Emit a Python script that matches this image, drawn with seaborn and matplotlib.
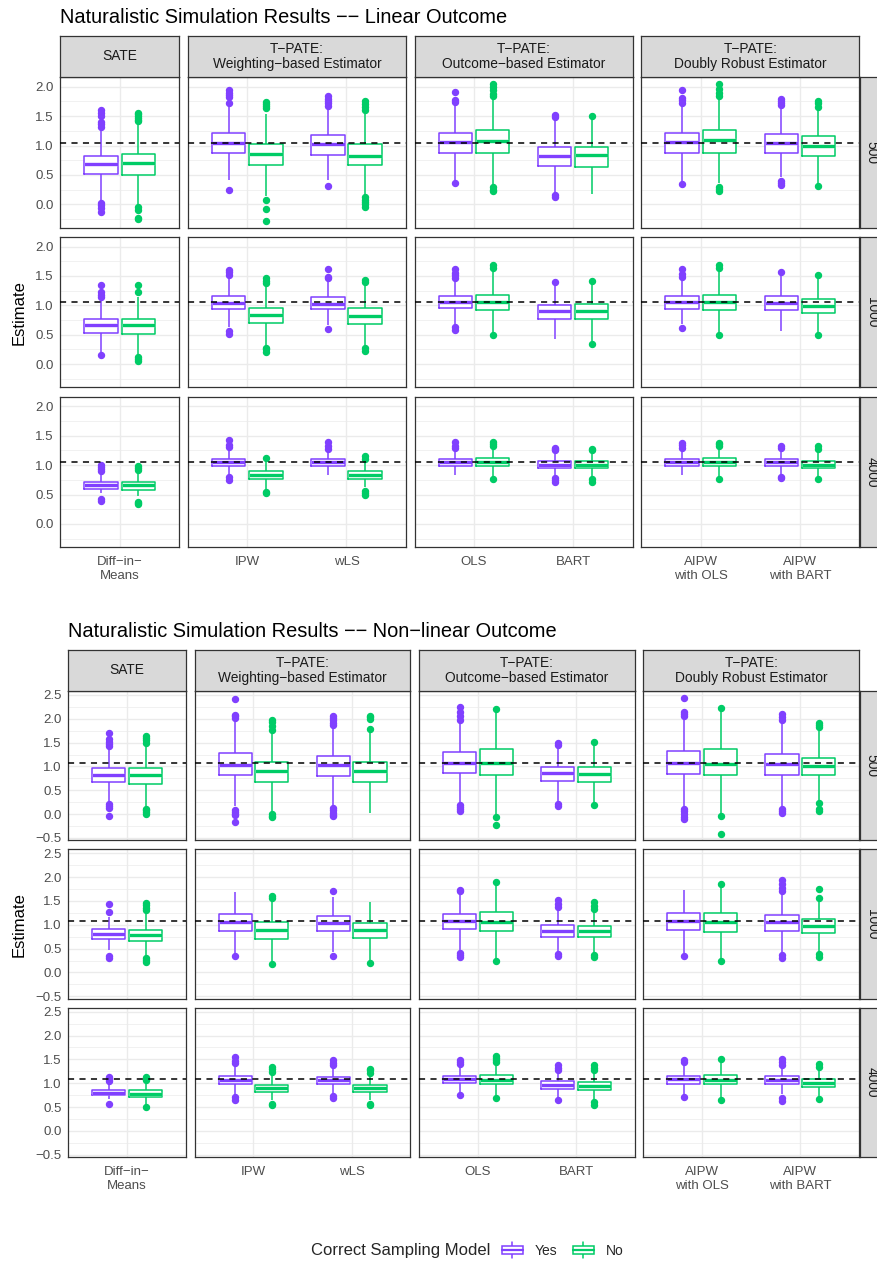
import pandas as pd
import seaborn as sns
import matplotlib.pyplot as plt
from matplotlib.patches import Rectangle, Patch
from matplotlib.lines import Line2D
from matplotlib.legend_handler import HandlerBase
from matplotlib.ticker import MultipleLocator

M = '\u2212'  # R draws hyphens as minus signs

# ---- categories -------------------------------------------------------------
estimators = ['Diff-in-Means', 'IPW', 'wLS', 'OLS', 'BART', 'AIPW with OLS', 'AIPW with BART']
estimator_labels = [f'Diff{M}in{M}\nMeans', 'IPW', 'wLS', 'OLS', 'BART', 'AIPW\nwith OLS', 'AIPW\nwith BART']
groups = ['SATE', f'T{M}PATE:\nWeighting{M}based Estimator',
          f'T{M}PATE:\nOutcome{M}based Estimator', f'T{M}PATE:\nDoubly Robust Estimator']
group_members = [['Diff-in-Means'], ['IPW', 'wLS'], ['OLS', 'BART'], ['AIPW with OLS', 'AIPW with BART']]
sample_sizes = [500, 1000, 4000]
models = ['Yes', 'No']
lin_yticks = [0.0, 0.5, 1.0, 1.5, 2.0]
nl_yticks = [-0.5, 0.0, 0.5, 1.0, 1.5, 2.0, 2.5]
lin_truth = 1.05
nl_truth = 1.08

# ---- box summaries: (low whisker, Q1, median, Q3, high whisker)
# one row per estimator, same order as `estimators`; *_out are the outlying points
lin_500_yes = [(0.06, 0.51, 0.68, 0.825, 1.28), (0.41, 0.88, 1.035, 1.215, 1.70),
               (0.41, 0.847, 1.023, 1.175, 1.65), (0.41, 0.88, 1.062, 1.215, 1.71),
               (0.20, 0.655, 0.82, 0.97, 1.43), (0.38, 0.88, 1.062, 1.215, 1.70),
               (0.47, 0.88, 1.05, 1.20, 1.63)]
lin_500_yes_out = [[1.32, 1.36, 1.40, 1.50, 1.55, 1.61, 0.03, -0.02, -0.06, -0.13],
                   [1.73, 1.82, 1.86, 1.90, 1.95, 0.25], [1.68, 1.72, 1.76, 1.80, 1.85, 0.31],
                   [1.74, 1.77, 1.91, 0.36], [1.48, 1.52, 0.16, 0.12],
                   [1.73, 1.77, 1.81, 1.94, 0.34], [1.69, 1.72, 1.76, 1.80, 0.39, 0.36, 0.33]]
lin_500_no = [(0.00, 0.503, 0.695, 0.86, 1.38), (0.14, 0.672, 0.864, 1.034, 1.54),
              (0.16, 0.667, 0.83, 1.023, 1.54), (0.33, 0.881, 1.085, 1.26, 1.80),
              (0.17, 0.64, 0.836, 0.98, 1.43), (0.36, 0.881, 1.09, 1.26, 1.82),
              (0.34, 0.83, 1.0, 1.158, 1.63)]
lin_500_no_out = [[1.41, 1.44, 1.47, 1.50, 1.53, 1.56, -0.05, -0.09, -0.24, -0.25],
                  [1.64, 1.67, 1.70, 1.74, 0.07, -0.085, -0.28],
                  [1.60, 1.65, 1.70, 1.75, 0.12, 0.08, 0.04, 0.0, -0.05],
                  [1.84, 1.88, 1.94, 2.00, 2.05, 0.30, 0.25, 0.22], [1.51],
                  [1.85, 1.90, 1.97, 2.05, 0.30, 0.26, 0.22], [1.66, 1.72, 1.76, 0.31]]

lin_1000_yes = [(0.20, 0.535, 0.665, 0.77, 1.10), (0.63, 0.94, 1.04, 1.166, 1.50),
                (0.66, 0.93, 1.03, 1.14, 1.42), (0.69, 0.952, 1.053, 1.155, 1.42),
                (0.43, 0.77, 0.90, 1.014, 1.34), (0.69, 0.946, 1.053, 1.155, 1.45),
                (0.57, 0.918, 1.04, 1.16, 1.52)]
lin_1000_yes_out = [[1.14, 1.18, 1.22, 1.34, 0.16], [1.52, 1.56, 1.60, 0.57, 0.52],
                    [1.46, 1.48, 1.62, 0.59], [1.47, 1.51, 1.55, 1.62, 0.63, 0.58],
                    [1.40], [1.48, 1.53, 1.62, 0.62], [1.57]]
lin_1000_no = [(0.18, 0.52, 0.66, 0.77, 1.14), (0.32, 0.693, 0.84, 0.963, 1.36),
               (0.32, 0.687, 0.82, 0.95, 1.33), (0.53, 0.918, 1.065, 1.18, 1.56),
               (0.40, 0.766, 0.907, 1.02, 1.39), (0.53, 0.918, 1.053, 1.18, 1.56),
               (0.52, 0.873, 0.997, 1.115, 1.47)]
lin_1000_no_out = [[1.22, 1.34, 0.12, 0.08, 0.05], [1.38, 1.42, 1.46, 0.28, 0.25, 0.20],
                   [1.39, 1.43, 0.27, 0.22], [1.63, 1.68, 0.50], [1.42, 0.35],
                   [1.64, 1.68, 0.50], [1.52, 0.50]]

lin_4000_yes = [(0.52, 0.60, 0.66, 0.715, 0.86), (0.84, 0.99, 1.053, 1.11, 1.25),
                (0.84, 0.99, 1.053, 1.104, 1.22), (0.84, 0.99, 1.048, 1.11, 1.22),
                (0.83, 0.952, 1.008, 1.065, 1.19), (0.84, 0.99, 1.048, 1.11, 1.22),
                (0.85, 0.986, 1.048, 1.104, 1.22)]
lin_4000_yes_out = [[0.90, 0.94, 0.97, 1.00, 0.42, 0.39], [1.31, 1.35, 1.42, 0.79, 0.75],
                    [1.28, 1.32, 1.39], [1.30, 1.33, 1.40], [1.25, 1.28, 1.30, 0.78, 0.75, 0.72],
                    [1.30, 1.34, 1.38], [1.29, 1.32, 0.80, 0.78]]
lin_4000_no = [(0.47, 0.585, 0.66, 0.715, 0.86), (0.60, 0.766, 0.84, 0.907, 1.08),
               (0.63, 0.766, 0.83, 0.90, 1.08), (0.80, 0.986, 1.048, 1.12, 1.25),
               (0.77, 0.946, 0.997, 1.065, 1.19), (0.80, 0.986, 1.048, 1.12, 1.25),
               (0.80, 0.952, 0.997, 1.076, 1.22)]
lin_4000_no_out = [[0.92, 0.95, 0.98, 0.38, 0.36, 0.34], [1.13, 0.54, 0.52],
                   [1.11, 1.15, 0.56, 0.53, 0.50], [1.33, 1.36, 1.39, 0.77],
                   [1.25, 1.28, 0.76, 0.72], [1.33, 1.36, 1.38, 0.77], [1.28, 1.33, 0.76]]

nl_500_yes = [(0.265, 0.67, 0.817, 0.957, 1.38), (0.16, 0.81, 1.034, 1.285, 1.94),
              (0.17, 0.796, 1.02, 1.22, 1.80), (0.23, 0.86, 1.082, 1.30, 1.94),
              (0.27, 0.70, 0.86, 0.99, 1.42), (0.16, 0.84, 1.082, 1.32, 2.01),
              (0.15, 0.81, 1.06, 1.27, 1.94)]
nl_500_yes_out = [[1.42, 1.47, 1.52, 1.58, 1.70, 0.22, 0.16, 0.13, -0.03],
                  [2.01, 2.05, 2.08, 2.42, 0.09, 0.05, 0.0, -0.02, -0.17],
                  [1.87, 1.92, 1.97, 2.02, 2.06, 0.13, 0.08, 0.03, -0.02, -0.05],
                  [1.98, 2.05, 2.15, 2.25, 0.18, 0.14, 0.10, 0.06], [1.45, 1.50, 0.22, 0.17],
                  [2.05, 2.10, 2.15, 2.44, 0.11, 0.06, 0.0, -0.06, -0.10],
                  [1.98, 2.04, 2.09, 0.11, 0.07, 0.03]]
nl_500_no = [(0.16, 0.63, 0.81, 0.97, 1.45), (0.04, 0.67, 0.90, 1.10, 1.73),
             (0.02, 0.663, 0.894, 1.10, 1.75), (0.0, 0.81, 1.075, 1.355, 2.15),
             (0.23, 0.68, 0.845, 0.99, 1.45), (0.0, 0.81, 1.06, 1.355, 2.17),
             (0.265, 0.81, 1.013, 1.187, 1.75)]
nl_500_no_out = [[1.50, 1.55, 1.60, 1.63, 0.11, 0.08, 0.04, 0.01],
                 [1.77, 1.85, 1.93, 1.98, 0.0, -0.03, -0.06], [1.79, 2.00, 2.03, 2.06],
                 [2.20, -0.06, -0.22], [1.52, 0.19], [2.22, -0.03, -0.41],
                 [1.82, 1.87, 1.92, 0.23, 0.10, 0.06]]

nl_1000_yes = [(0.47, 0.693, 0.805, 0.917, 1.17), (0.37, 0.875, 1.064, 1.225, 1.69),
               (0.43, 0.875, 1.043, 1.19, 1.575), (0.47, 0.917, 1.078, 1.225, 1.66),
               (0.43, 0.75, 0.868, 0.987, 1.34), (0.40, 0.90, 1.078, 1.25, 1.74),
               (0.40, 0.875, 1.064, 1.20, 1.66)]
nl_1000_yes_out = [[1.26, 1.43, 0.35, 0.31], [0.34], [1.71, 0.34],
                   [1.70, 1.74, 0.41, 0.36, 0.32], [1.38, 1.44, 1.52, 0.39, 0.35],
                   [0.34], [1.70, 1.78, 1.86, 1.94, 0.37, 0.30]]
nl_1000_no = [(0.36, 0.665, 0.784, 0.90, 1.24), (0.22, 0.707, 0.896, 1.05, 1.52),
              (0.24, 0.714, 0.889, 1.036, 1.47), (0.30, 0.86, 1.057, 1.26, 1.85),
              (0.40, 0.735, 0.868, 0.973, 1.31), (0.27, 0.854, 1.05, 1.25, 1.82),
              (0.41, 0.833, 0.98, 1.12, 1.52)]
nl_1000_no_out = [[1.31, 1.36, 1.41, 1.45, 0.31, 0.26, 0.22], [1.57, 1.60, 0.18], [0.19],
                  [1.90, 0.24], [1.34, 1.40, 1.47, 0.36, 0.32], [1.85, 0.24],
                  [1.56, 1.75, 0.38, 0.33]]

nl_4000_yes = [(0.66, 0.75, 0.805, 0.868, 0.99), (0.75, 0.98, 1.064, 1.15, 1.38),
               (0.77, 0.98, 1.057, 1.134, 1.34), (0.80, 1.0, 1.078, 1.155, 1.34),
               (0.68, 0.889, 0.966, 1.043, 1.24), (0.76, 0.994, 1.078, 1.155, 1.39),
               (0.77, 0.994, 1.071, 1.15, 1.34)]
nl_4000_yes_out = [[1.05, 1.08, 1.12, 0.57], [1.42, 1.47, 1.54, 0.72, 0.64],
                   [1.38, 1.43, 1.48, 0.73, 0.68], [1.40, 1.44, 1.48, 0.75],
                   [1.28, 1.32, 1.38, 0.64], [1.45, 1.48, 0.71], [1.39, 1.44, 1.50, 0.70, 0.62]]
nl_4000_no = [(0.57, 0.72, 0.784, 0.854, 0.99), (0.644, 0.812, 0.89, 0.966, 1.19),
              (0.644, 0.812, 0.89, 0.966, 1.19), (0.75, 0.98, 1.064, 1.162, 1.38),
              (0.644, 0.868, 0.952, 1.03, 1.24), (0.71, 0.98, 1.064, 1.162, 1.43),
              (0.70, 0.924, 1.0, 1.085, 1.27)]
nl_4000_no_out = [[1.06, 1.08, 1.12, 0.51], [1.24, 1.29, 1.34, 0.57, 0.54],
                  [1.22, 1.27, 1.30, 0.57, 0.55], [1.44, 1.48, 1.52, 1.58, 0.70],
                  [1.28, 1.32, 1.38, 0.60, 0.54], [1.50, 0.64], [1.34, 1.40, 0.67]]

tables = {
    'linear': {(500, 'Yes'): (lin_500_yes, lin_500_yes_out), (500, 'No'): (lin_500_no, lin_500_no_out),
               (1000, 'Yes'): (lin_1000_yes, lin_1000_yes_out), (1000, 'No'): (lin_1000_no, lin_1000_no_out),
               (4000, 'Yes'): (lin_4000_yes, lin_4000_yes_out), (4000, 'No'): (lin_4000_no, lin_4000_no_out)},
    'nonlinear': {(500, 'Yes'): (nl_500_yes, nl_500_yes_out), (500, 'No'): (nl_500_no, nl_500_no_out),
                  (1000, 'Yes'): (nl_1000_yes, nl_1000_yes_out), (1000, 'No'): (nl_1000_no, nl_1000_no_out),
                  (4000, 'Yes'): (nl_4000_yes, nl_4000_yes_out), (4000, 'No'): (nl_4000_no, nl_4000_no_out)},
}


# turn each five-number summary back into a sample with exactly those quartiles
def expand(box, out, reps=40):
    lo, q1, med, q3, hi = box
    return list(out) + [lo, hi] + [q1] * reps + [med] * reps + [q3] * reps


records = []
for outcome, tab in tables.items():
    for (n, model), (boxes, outs) in tab.items():
        for est, box, out in zip(estimators, boxes, outs):
            for v in expand(box, out):
                records.append((outcome, n, est, model, v))
df = pd.DataFrame(records, columns=['outcome', 'n', 'estimator', 'model', 'estimate'])

# ---- style ----------------------------------------------------------------
sns.set_theme(style='white')
plt.rcParams['font.family'] = ['Liberation Sans', 'DejaVu Sans']
palette = {'Yes': '#8040FF', 'No': '#00CC66'}
BORDER = '#333333'
GRID = '#EBEBEB'

W, H = 877, 1262
fig = plt.figure(figsize=(W / 100, H / 100), dpi=100)


def frac(x0, y0, w, h):
    return [x0 / W, 1 - (y0 + h) / H, w / W, h / H]


charts = [
    dict(outcome='linear', title=f'Naturalistic Simulation Results {M}{M} Linear Outcome',
         left=60.3, top=77.0, row_h=150.6, row_gap=9.2, yticks=lin_yticks, truth=lin_truth),
    dict(outcome='nonlinear', title=f'Naturalistic Simulation Results {M}{M} Non{M}linear Outcome',
         left=68.3, top=691.0, row_h=149.4, row_gap=9.0, yticks=nl_yticks, truth=nl_truth),
]
right, col_gap, strip_h = 859.3, 8.6, 41.0

for ch in charts:
    sub_all = df[df.outcome == ch['outcome']]
    lo, hi = sub_all.estimate.min(), sub_all.estimate.max()
    pad = 0.05 * (hi - lo)
    ylim = (lo - pad, hi + pad)
    unit = (right - ch['left'] - 3 * col_gap) / sum(len(m) + 0.2 for m in group_members)
    widths = [(len(m) + 0.2) * unit for m in group_members]
    xs = [ch['left'] + sum(widths[:i]) + i * col_gap for i in range(4)]

    for r, n in enumerate(sample_sizes):
        y0 = ch['top'] + r * (ch['row_h'] + ch['row_gap'])
        for c, members in enumerate(group_members):
            ax = fig.add_axes(frac(xs[c], y0, widths[c], ch['row_h']))
            sub = sub_all[(sub_all.n == n) & (sub_all.estimator.isin(members))]
            common = dict(data=sub, x='estimator', y='estimate', hue='model', order=members,
                          hue_order=models, width=0.75, gap=0.1, showcaps=False, legend=False, ax=ax)
            # white fill underneath, then coloured outlines
            sns.boxplot(palette={'Yes': 'white', 'No': 'white'}, linecolor='white',
                        showfliers=False, **common)
            sns.boxplot(palette=palette, fill=False, linewidth=1.1, fliersize=4.3, **common)
            for ln in ax.lines:
                xd, yd = ln.get_xdata(), ln.get_ydata()
                if ln.get_marker() == 'o':
                    ln.set_markerfacecolor(ln.get_markeredgecolor())
                elif len(xd) == 2 and yd[0] == yd[1] and xd[0] != xd[1]:
                    ln.set_linewidth(2.4)  # medians are drawn twice as thick
            ax.axhline(ch['truth'], color='black', lw=1.1, ls=(0, (4, 3.5)), zorder=6)

            ax.set_xlim(-0.6, len(members) - 0.4)
            ax.set_ylim(*ylim)
            ax.set_xlabel('')
            ax.set_ylabel('')
            ax.set_yticks(ch['yticks'])
            ax.set_yticklabels([f'{v:.1f}'.replace('-', M) for v in ch['yticks']])
            ax.yaxis.set_minor_locator(MultipleLocator(0.25))
            ax.set_axisbelow(True)
            ax.grid(True, which='major', color=GRID, lw=1.0)
            ax.grid(True, which='minor', axis='y', color=GRID, lw=0.5)
            ax.xaxis.grid(True, which='major', color=GRID, lw=1.0)
            ax.tick_params(which='minor', length=0)
            ax.tick_params(which='major', length=2.75, width=0.8, color=BORDER,
                           labelsize=9.5, labelcolor='#4D4D4D', pad=2.2)
            ax.tick_params(axis='x', pad=3.5)
            for s in ax.spines.values():
                s.set_color(BORDER)
                s.set_linewidth(0.9)
            if c > 0:
                ax.tick_params(axis='y', left=False, labelleft=False)
            if r < 2:
                ax.tick_params(axis='x', bottom=False, labelbottom=False)
            else:
                ax.set_xticks(range(len(members)))
                ax.set_xticklabels([estimator_labels[estimators.index(m)] for m in members],
                                   linespacing=1.25)

            if r == 0:
                sax = fig.add_axes(frac(xs[c], y0 - strip_h, widths[c], strip_h))
                sax.set_facecolor('#D9D9D9')
                sax.set_xticks([])
                sax.set_yticks([])
                for s in sax.spines.values():
                    s.set_color(BORDER)
                    s.set_linewidth(0.9)
                sax.text(0.5, 0.5, groups[c], ha='center', va='center', fontsize=9.9,
                         color='#1A1A1A', linespacing=1.05, transform=sax.transAxes)

        rax = fig.add_axes(frac(right + 1.0, y0, 22.7, ch['row_h']))
        rax.set_facecolor('#D9D9D9')
        rax.set_xticks([])
        rax.set_yticks([])
        for s in rax.spines.values():
            s.set_color(BORDER)
            s.set_linewidth(0.9)
        rax.text(0.5, 0.5, str(n), ha='center', va='center', rotation=270, fontsize=9.9,
                 color='#1A1A1A', transform=rax.transAxes)

    fig.text(ch['left'] / W, 1 - (ch['top'] - strip_h - 13.3) / H, ch['title'],
             ha='left', va='baseline', fontsize=14.4, color='black')
    mid = ch['top'] + 1.5 * ch['row_h'] + ch['row_gap']
    fig.text(19.3 / W, 1 - mid / H, 'Estimate', rotation=90, ha='center', va='center',
             fontsize=12, color='black')


# ---- legend -----------------------------------------------------------------
class BoxKey(HandlerBase):
    def create_artists(self, legend, orig_handle, xdescent, ydescent, width, height, fontsize, trans):
        col = orig_handle.get_edgecolor()
        x0, y0 = -xdescent, -ydescent
        xm = x0 + width / 2
        arts = [
            Line2D([xm, xm], [y0, y0 + 0.25 * height], color=col, lw=1.1),
            Line2D([xm, xm], [y0 + 0.75 * height, y0 + height], color=col, lw=1.1),
            Rectangle((x0 + 0.1 * width, y0 + 0.25 * height), 0.8 * width, 0.5 * height,
                      facecolor='white', edgecolor=col, lw=1.1),
            Line2D([x0 + 0.1 * width, x0 + 0.9 * width], [y0 + 0.5 * height] * 2, color=col, lw=1.6),
        ]
        for a in arts:
            a.set_transform(trans)
        return arts


fig.text(490 / W, 1 - 1250 / H, 'Correct Sampling Model', ha='right', va='center', fontsize=12)
handles = [Patch(facecolor='white', edgecolor=palette[m]) for m in models]
fig.legend(handles, models, loc='center left', bbox_to_anchor=(499 / W, 1 - 1250 / H), ncol=2,
           frameon=False, fontsize=10, handlelength=1.9, handleheight=1.5, handletextpad=0.7,
           columnspacing=0.9, borderpad=0, borderaxespad=0, handler_map={Patch: BoxKey()})

fig.savefig('out.png', dpi=100)
